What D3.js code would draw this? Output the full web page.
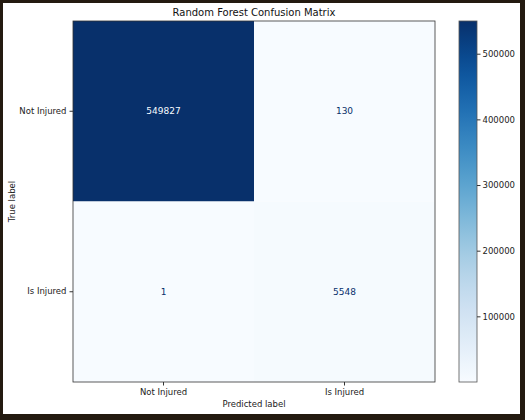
<!DOCTYPE html>
<html><head><meta charset="utf-8">
<script src="https://cdn.jsdelivr.net/npm/d3@7"></script>
<style>body{margin:0;background:#231a10}svg{display:block}</style>
</head><body>
<svg id="c" width="525" height="420"></svg>
<script>
const labels = ["Not Injured", "Is Injured"];
const matrix = [[549827, 130], [1, 5548]];
const cbTicks = [100000, 200000, 300000, 400000, 500000];

const svg = d3.select("#c");
const font = "DejaVu Sans, sans-serif";
svg.append("rect").attr("x",3).attr("y",3).attr("width",517).attr("height",411).attr("fill","#fff");

const L=73,R=435,T=21,B=382;
const x = d3.scaleBand().domain(labels).range([L,R]);
const y = d3.scaleBand().domain(labels).range([T,B]);
const vals = matrix.flat();
const vmin = d3.min(vals), vmax = d3.max(vals);
const color = d3.scaleSequential(d3.interpolateBlues).domain([vmin,vmax]);

const cells = [];
matrix.forEach((row,i)=>row.forEach((v,j)=>cells.push({t:labels[i],p:labels[j],v})));
const g = svg.append("g");
g.selectAll("rect.cell").data(cells).join("rect")
  .attr("x",d=>x(d.p)).attr("y",d=>y(d.t)).attr("width",x.bandwidth()).attr("height",y.bandwidth())
  .attr("fill",d=>color(d.v));
g.selectAll("text.v").data(cells).join("text")
  .attr("x",d=>x(d.p)+x.bandwidth()/2).attr("y",d=>y(d.t)+y.bandwidth()/2)
  .attr("text-anchor","middle").attr("dominant-baseline","central")
  .attr("font-family",font).attr("font-size",9)
  .attr("fill",d=>d.v>(vmin+vmax)/2?"#f7fbff":"#08306b").text(d=>d.v);
svg.append("rect").attr("x",L).attr("y",T).attr("width",R-L).attr("height",B-T)
  .attr("fill","none").attr("stroke","#333").attr("stroke-width",0.8);

const ax = svg.append("g").attr("transform",`translate(0,${B})`).call(d3.axisBottom(x).tickSize(3.5).tickPadding(3));
const ay = svg.append("g").attr("transform",`translate(${L},0)`).call(d3.axisLeft(y).tickSize(3.5).tickPadding(3));
[ax,ay].forEach(a=>{a.select(".domain").remove();a.selectAll("text").attr("font-family",font).attr("font-size",8.5).attr("fill","#222");a.selectAll("line").attr("stroke","#333");});

svg.append("text").attr("x",(L+R)/2).attr("y",16).attr("text-anchor","middle")
  .attr("font-family",font).attr("font-size",10).attr("fill","#111").text("Random Forest Confusion Matrix");
svg.append("text").attr("x",(L+R)/2).attr("y",407).attr("text-anchor","middle")
  .attr("font-family",font).attr("font-size",8.5).attr("fill","#222").text("Predicted label");
svg.append("text").attr("transform",`translate(15,${(T+B)/2}) rotate(-90)`).attr("text-anchor","middle")
  .attr("font-family",font).attr("font-size",8.5).attr("fill","#222").text("True label");

// colorbar
const cx=459,cw=18;
const cy = d3.scaleLinear().domain([vmin,vmax]).range([B,T]);
const defs = svg.append("defs");
const grad = defs.append("linearGradient").attr("id","gr").attr("x1",0).attr("y1",1).attr("x2",0).attr("y2",0);
d3.range(0,1.0001,0.05).forEach(t=>grad.append("stop").attr("offset",t).attr("stop-color",d3.interpolateBlues(t)));
svg.append("rect").attr("x",cx).attr("y",T).attr("width",cw).attr("height",B-T).attr("fill","url(#gr)")
  .attr("stroke","#555").attr("stroke-width",0.8);
const ac = svg.append("g").attr("transform",`translate(${cx+cw},0)`).call(d3.axisRight(cy).tickValues(cbTicks).tickFormat(d3.format("d")).tickSize(3.5).tickPadding(2));
ac.select(".domain").remove();
ac.selectAll("text").attr("font-family",font).attr("font-size",8.5).attr("fill","#222");
ac.selectAll("line").attr("stroke","#333");
</script>
</body></html>
